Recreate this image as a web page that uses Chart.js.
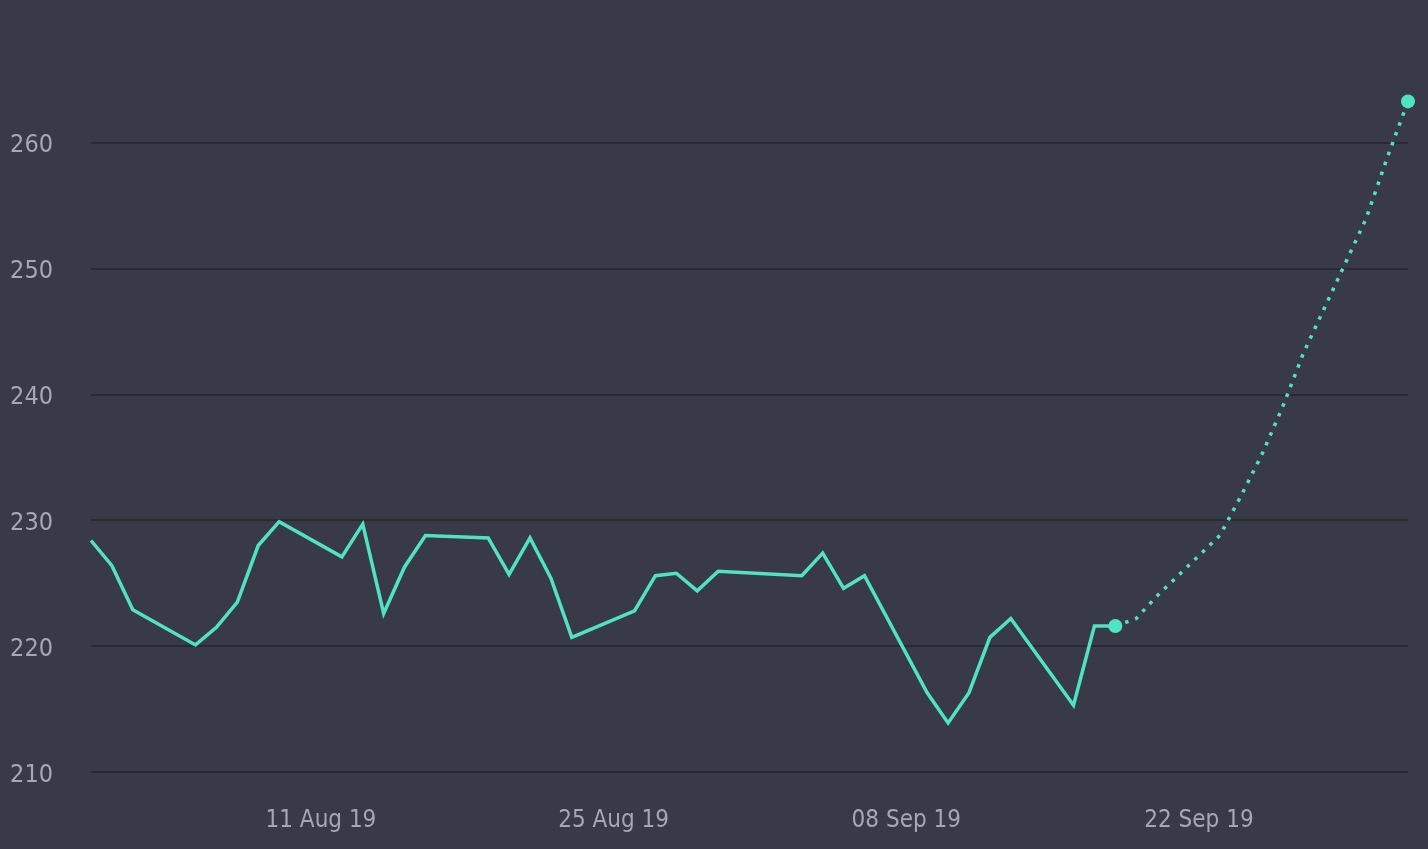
<!DOCTYPE html>
<html>
<head>
<meta charset="utf-8">
<script src="https://cdn.jsdelivr.net/npm/chart.js@4.4.1/dist/chart.umd.min.js"></script>
<style>
  html, body { margin: 0; padding: 0; background: #393a47; }
  #wrap { width: 1428px; height: 849px; }
</style>
</head>
<body>
<div id="wrap"><canvas id="c"></canvas></div>
<script>
const histDates = ['2019-07-31','2019-08-01','2019-08-02','2019-08-05','2019-08-06','2019-08-07','2019-08-08','2019-08-09',
  '2019-08-12','2019-08-13','2019-08-14','2019-08-15','2019-08-16','2019-08-19','2019-08-20','2019-08-21','2019-08-22','2019-08-23',
  '2019-08-26','2019-08-27','2019-08-28','2019-08-29','2019-08-30','2019-09-03','2019-09-04','2019-09-05','2019-09-06',
  '2019-09-09','2019-09-10','2019-09-11','2019-09-12','2019-09-13','2019-09-16','2019-09-17','2019-09-18'];
const histValues = [228.4,226.4,222.9,220.1,221.5,223.5,228.0,229.9,
  227.1,229.7,222.6,226.3,228.8,228.6,225.7,228.6,225.4,220.7,
  222.8,225.6,225.8,224.4,225.95,225.6,227.4,224.6,225.6,
  216.3,213.9,216.3,220.7,222.2,215.3,221.6,221.6];
const forecastDates = ['2019-09-18','2019-09-19','2019-09-20','2019-09-23','2019-09-24','2019-09-25','2019-09-26','2019-09-27',
  '2019-09-30','2019-10-01','2019-10-02'];
const forecastValues = [221.6,222.2,224.0,228.8,231.9,235.2,239.0,243.3,254.0,258.8,263.3];
const xTickDates = ['2019-08-11','2019-08-25','2019-09-08','2019-09-22'];
const yTicks = [210,220,230,240,250,260];
const xMinDate = '2019-07-31';
const xMaxDate = '2019-10-02';
const yMin = 210, yMax = 265;

const MONTHS = ['Jan','Feb','Mar','Apr','May','Jun','Jul','Aug','Sep','Oct','Nov','Dec'];
const DAY = 86400000;
const base = Date.UTC(2019, 6, 28);
function dayNum(s) { const p = s.split('-').map(Number); return Math.round((Date.UTC(p[0], p[1]-1, p[2]) - base) / DAY); }
function fmt(n) {
  const d = new Date(base + n * DAY);
  const dd = String(d.getUTCDate()).padStart(2, '0');
  return dd + ' ' + MONTHS[d.getUTCMonth()] + ' ' + String(d.getUTCFullYear()).slice(2);
}
const hist = histDates.map((d, i) => ({ x: dayNum(d), y: histValues[i] }));
const fc = forecastDates.map((d, i) => ({ x: dayNum(d), y: forecastValues[i] }));
const lastIdx = fc.length - 1;

const FONT = "'DejaVu Sans Condensed', 'DejaVu Sans', sans-serif";
const LINE = '#50e3c2';
const TXT = '#a6a6b5';

new Chart(document.getElementById('c'), {
  type: 'line',
  data: {
    datasets: [
      {
        data: hist, borderColor: LINE, borderWidth: 3.5, pointRadius: 0, tension: 0,
        borderJoinStyle: 'miter', clip: false
      },
      {
        data: fc, borderColor: LINE, backgroundColor: LINE, borderWidth: 3.5,
        borderDash: [3.5, 7], tension: 0, clip: false,
        pointRadius: fc.map((p, i) => (i === 0 || i === lastIdx) ? 7 : 0),
        pointBorderWidth: 0
      }
    ]
  },
  options: {
    responsive: true,
    maintainAspectRatio: false,
    animation: false,
    layout: { padding: { top: 80, right: 20, left: 0, bottom: 0 } },
    plugins: { legend: { display: false }, tooltip: { enabled: false } },
    scales: {
      x: {
        type: 'linear',
        min: dayNum(xMinDate), max: dayNum(xMaxDate),
        grid: { display: false, drawTicks: false },
        border: { display: false },
        afterBuildTicks: s => { s.ticks = xTickDates.map(d => ({ value: dayNum(d) })); },
        afterFit: s => { s.height = 77; },
        ticks: {
          color: TXT, padding: 34, maxRotation: 0, autoSkip: false,
          font: { family: FONT, size: 24 },
          callback: v => fmt(v)
        }
      },
      y: {
        min: yMin, max: yMax,
        grid: { color: '#2a2a33', lineWidth: 2, drawTicks: false },
        border: { display: false },
        afterBuildTicks: s => { s.ticks = yTicks.map(v => ({ value: v })); },
        afterFit: s => { s.width = 91; },
        ticks: {
          color: TXT, padding: 38, labelOffset: 3,
          font: { family: FONT, size: 25 },
          callback: v => String(v)
        }
      }
    }
  }
});
</script>
</body>
</html>
